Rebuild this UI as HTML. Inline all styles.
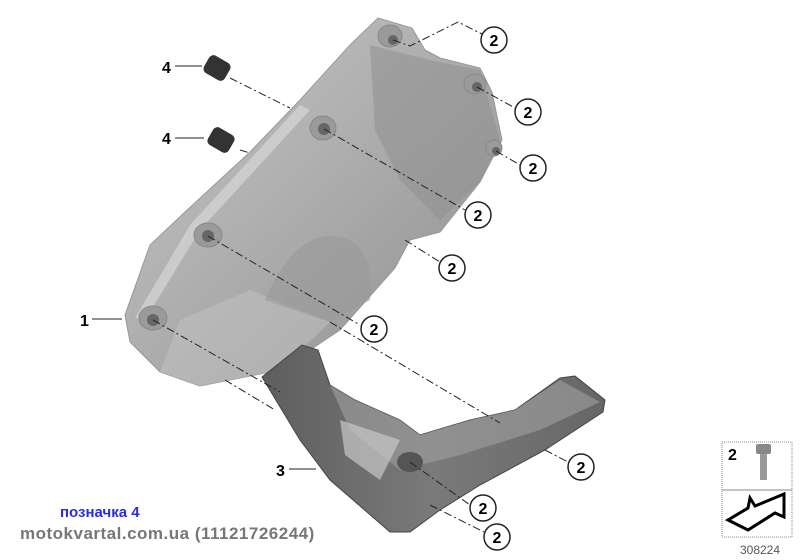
<!DOCTYPE html>
<html><head><style>
body{margin:0;background:#fff;width:800px;height:560px;overflow:hidden}
svg{display:block}
text{font-family:"Liberation Sans",sans-serif}
</style></head><body>
<svg width="800" height="560" viewBox="0 0 800 560">
<defs>
<linearGradient id="g1" x1="0" y1="0" x2="1" y2="1">
<stop offset="0" stop-color="#c8c8c8"/><stop offset="0.5" stop-color="#acacac"/><stop offset="1" stop-color="#8e8e8e"/></linearGradient>
<linearGradient id="g2" x1="0" y1="0" x2="1" y2="0">
<stop offset="0" stop-color="#5e5e5e"/><stop offset="0.5" stop-color="#7a7a7a"/><stop offset="1" stop-color="#666"/></linearGradient>
</defs>
<!-- cover -->
<path d="M125,315 L150,245 L185,212 L250,152 L300,100 L350,45 L378,18 L412,28 L425,50 L440,58 L480,68 L492,92 L502,140 L480,182 L440,232 L410,240 L395,268 L340,330 L280,370 L200,386 L160,372 L130,342 Z" fill="url(#g1)" stroke="#999" stroke-width="1"/>
<path d="M370,45 L430,60 L480,70 L500,140 L480,182 L440,220 L400,180 L375,130 Z" fill="#8f8f8f" opacity="0.55"/>
<path d="M160,372 L180,320 L250,290 L330,322 L280,370 L200,386Z" fill="#c4c4c4" opacity="0.5"/>
<path d="M265,300 Q300,220 350,240 Q375,255 370,300 L330,322Z" fill="#9a9a9a" opacity="0.6"/>
<path d="M135,318 L190,225 L300,105 L310,110 L200,230 L145,320Z" fill="#dcdcdc" opacity="0.6"/>
<!-- bosses -->
<g fill="#9a9a9a" stroke="#888">
<ellipse cx="390" cy="36" rx="12" ry="11"/><ellipse cx="475" cy="84" rx="11" ry="10"/>
<ellipse cx="494" cy="148" rx="8" ry="8"/><ellipse cx="323" cy="128" rx="13" ry="12"/>
<ellipse cx="208" cy="235" rx="14" ry="12"/><ellipse cx="153" cy="318" rx="14" ry="12"/>
</g>
<g fill="#666">
<circle cx="393" cy="40" r="5"/><circle cx="477" cy="87" r="5"/><circle cx="496" cy="151" r="4"/>
<circle cx="324" cy="129" r="6"/><circle cx="208" cy="236" r="6"/><circle cx="153" cy="320" r="6"/>
</g>
<!-- bracket -->
<path d="M262,377 L302,345 L318,350 L330,385 L355,400 L400,420 L420,435 L470,420 L515,410 L560,378 L575,376 L605,400 L603,412 L545,450 L480,485 L440,510 L410,532 L390,532 L330,480 L300,440 Z" fill="url(#g2)" stroke="#444"/>
<path d="M330,385 L355,400 L400,420 L420,435 L470,420 L515,410 L560,380 L600,402 L540,430 L460,455 L400,470 L350,430Z" fill="#a0a0a0" opacity="0.6"/>
<path d="M340,420 L400,440 L380,480 L345,455Z" fill="#c8c8c8" opacity="0.7"/>
<ellipse cx="410" cy="462" rx="13" ry="10" fill="#555"/>
<!-- sleeves -->
<rect x="205" y="58" width="24" height="20" rx="5" fill="#333" transform="rotate(30 217 68)"/>
<rect x="209" y="130" width="24" height="20" rx="5" fill="#333" transform="rotate(30 221 140)"/>
<!-- dash lines -->
<g stroke="#222" stroke-width="1" stroke-dasharray="8,3,2,3" fill="none">
<path d="M393,40 L410,46 L458,22 L482,34"/><path d="M477,87 L515,108"/><path d="M496,151 L520,165"/>
<path d="M324,129 L465,210"/><path d="M208,236 L360,325"/><path d="M405,240 L440,262"/>
<path d="M230,78 L290,108"/><path d="M240,150 L250,153"/>
<path d="M330,322 L500,423"/><path d="M545,450 L568,462"/><path d="M153,320 L280,392"/>
<path d="M410,462 L470,505"/><path d="M430,505 L484,532"/>
<path d="M225,380 L275,410"/>
</g>
<!-- callouts -->
<g font-size="16" font-weight="bold" text-anchor="middle">
<g fill="#fff" stroke="#222" stroke-width="1.5">
<circle cx="494" cy="40" r="13"/><circle cx="528" cy="112" r="13"/><circle cx="533" cy="168" r="13"/>
<circle cx="478" cy="215" r="13"/><circle cx="452" cy="268" r="13"/><circle cx="374" cy="329" r="13"/>
<circle cx="581" cy="467" r="13"/><circle cx="483" cy="508" r="13"/><circle cx="497" cy="537" r="13"/>
</g>
<text x="494" y="46">2</text><text x="528" y="118">2</text><text x="533" y="174">2</text>
<text x="478" y="221">2</text><text x="452" y="274">2</text><text x="374" y="335">2</text>
<text x="581" y="473">2</text><text x="483" y="514">2</text><text x="497" y="543">2</text>
</g>
<g font-size="16" font-weight="bold" stroke="#222">
<text x="162" y="73" stroke="none">4</text><line x1="175" y1="66" x2="202" y2="66"/>
<text x="162" y="144" stroke="none">4</text><line x1="175" y1="138" x2="204" y2="138"/>
<text x="80" y="326" stroke="none">1</text><line x1="92" y1="319" x2="122" y2="319"/>
<text x="276" y="476" stroke="none">3</text><line x1="289" y1="469" x2="316" y2="469"/>
</g>
<!-- legend box -->
<rect x="722" y="442" width="70" height="95" fill="#fff" stroke="#888" stroke-dasharray="1,1"/>
<line x1="722" y1="490" x2="792" y2="490" stroke="#888"/>
<text x="728" y="460" font-size="16" font-weight="bold">2</text>
<rect x="760" y="450" width="7" height="30" fill="#999"/><rect x="756" y="444" width="15" height="10" rx="2" fill="#888"/>
<path d="M750,498 L755,506 L784,494 L784,517 L775,513 L748,530 L728,520 L748,508Z" fill="#fff" stroke="#000" stroke-width="3"/>
<text x="760" y="554" font-size="12" fill="#555" text-anchor="middle">308224</text>
<text x="60" y="517" font-size="15" font-weight="bold" fill="#2a2ae8">позначка 4</text>
<text x="20" y="539" font-size="17" font-weight="bold" fill="#777" letter-spacing="0.5">motokvartal.com.ua (11121726244)</text>
</svg>
</body></html>
